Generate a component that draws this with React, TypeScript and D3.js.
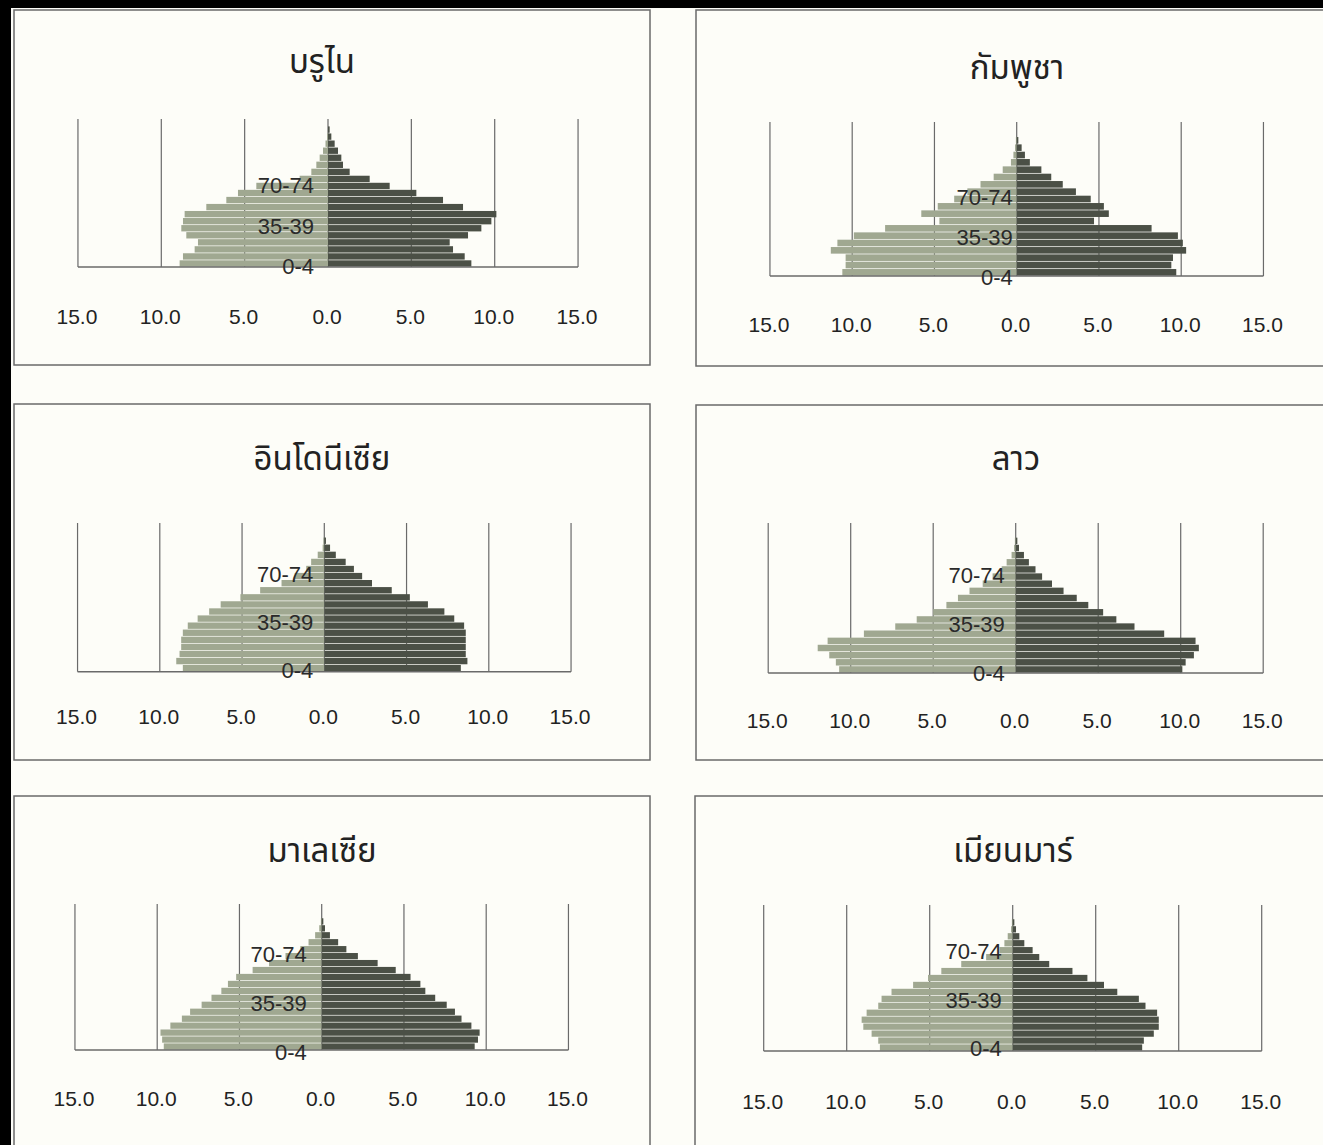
import React, { useEffect } from 'react';
import * as d3 from 'd3';

// ---------- data ----------
const ageGroups = [
  '0-4', '5-9', '10-14', '15-19', '20-24', '25-29', '30-34', '35-39', '40-44', '45-49',
  '50-54', '55-59', '60-64', '65-69', '70-74', '75-79', '80-84', '85-89', '90-94', '95-99', '100+',
];
const labeledAges = ['0-4', '35-39', '70-74'];
const tickValues = [-15, -10, -5, 0, 5, 10, 15];

const countryNames = ['บรูไน', 'กัมพูชา', 'อินโดนีเซีย', 'ลาว', 'มาเลเซีย', 'เมียนมาร์'];

const bruneiMale = [8.9, 8.7, 8.0, 7.8, 8.5, 8.8, 8.7, 8.6, 7.3, 6.1, 5.4, 4.3, 1.7, 1.0, 0.7, 0.5, 0.3, 0.15, 0.05, 0, 0];
const bruneiFemale = [8.6, 8.2, 7.5, 7.3, 8.4, 9.2, 9.8, 10.1, 8.1, 6.9, 5.3, 3.7, 2.5, 1.3, 0.9, 0.8, 0.6, 0.4, 0.2, 0.1, 0];

const cambodiaMale = [10.6, 10.4, 10.4, 11.3, 10.9, 9.9, 8.0, 4.7, 5.8, 4.8, 3.8, 3.0, 2.2, 1.4, 0.85, 0.35, 0.2, 0.1, 0.05, 0, 0];
const cambodiaFemale = [9.7, 9.4, 9.5, 10.3, 10.1, 9.8, 8.2, 4.7, 5.6, 5.3, 4.5, 3.6, 2.8, 2.1, 1.5, 0.8, 0.5, 0.3, 0.1, 0, 0];

const indonesiaMale = [8.6, 9.0, 8.8, 8.7, 8.7, 8.6, 8.3, 7.7, 7.0, 6.3, 5.1, 3.9, 2.6, 1.8, 1.1, 0.8, 0.4, 0.1, 0.05, 0, 0];
const indonesiaFemale = [8.3, 8.7, 8.6, 8.6, 8.6, 8.6, 8.5, 7.9, 7.3, 6.3, 5.2, 4.1, 2.9, 2.3, 1.8, 1.3, 0.7, 0.35, 0.1, 0, 0];

const laosMale = [10.7, 10.9, 11.3, 12.0, 11.4, 9.2, 7.3, 6.0, 5.0, 4.2, 3.5, 2.8, 2.0, 1.4, 0.85, 0.55, 0.25, 0.1, 0.05, 0, 0];
const laosFemale = [10.1, 10.3, 10.8, 11.1, 10.9, 9.0, 7.2, 6.1, 5.3, 4.4, 3.7, 2.9, 2.2, 1.6, 1.2, 0.8, 0.5, 0.2, 0.1, 0, 0];

const malaysiaMale = [9.6, 9.7, 9.8, 9.2, 8.5, 8.0, 7.3, 6.7, 6.1, 5.7, 5.2, 4.2, 3.2, 2.2, 1.3, 0.8, 0.4, 0.15, 0.05, 0, 0];
const malaysiaFemale = [9.3, 9.5, 9.6, 9.1, 8.5, 8.1, 7.6, 6.9, 6.3, 6.0, 5.4, 4.5, 3.4, 2.2, 1.5, 1.0, 0.5, 0.2, 0.1, 0, 0];

const myanmarMale = [8.0, 8.1, 8.5, 9.0, 9.1, 8.8, 8.1, 7.9, 7.3, 6.0, 5.1, 4.3, 3.1, 1.6, 0.8, 0.5, 0.3, 0.1, 0.05, 0, 0];
const myanmarFemale = [7.8, 7.9, 8.5, 8.8, 8.8, 8.7, 8.0, 7.6, 6.3, 5.5, 4.5, 3.6, 2.2, 1.6, 1.2, 0.7, 0.4, 0.2, 0.1, 0, 0];

const maleSeries = [bruneiMale, cambodiaMale, indonesiaMale, laosMale, malaysiaMale, myanmarMale];
const femaleSeries = [bruneiFemale, cambodiaFemale, indonesiaFemale, laosFemale, malaysiaFemale, myanmarFemale];

// ---------- layout (positions only) ----------
type Layout = {
  box: [number, number, number, number];
  cx: number; unit: number; top: number; axis: number;
  titleX: number; titleY: number; tickY: number;
  labelStep: number; labelOff: number; labelDx: number;
};
const layouts: Layout[] = [
  { box: [14, 10, 636, 355], cx: 328, unit: 16.67, top: 119, axis: 267, titleX: 322, titleY: 64, tickY: 318, labelStep: 5.75, labelOff: 1, labelDx: -14 },
  { box: [696, 10, 640, 356], cx: 1016.7, unit: 16.45, top: 122, axis: 276, titleX: 1017, titleY: 70, tickY: 326, labelStep: 5.7, labelOff: 3, labelDx: -4 },
  { box: [14, 404, 636, 356], cx: 324.3, unit: 16.45, top: 523, axis: 671.7, titleX: 322, titleY: 461, tickY: 718, labelStep: 6.8, labelOff: 0, labelDx: -11 },
  { box: [696, 405, 640, 355], cx: 1015.7, unit: 16.5, top: 523, axis: 673, titleX: 1016, titleY: 461, tickY: 722, labelStep: 7.0, labelOff: 2, labelDx: -11 },
  { box: [14, 796, 636, 360], cx: 321.7, unit: 16.45, top: 904, axis: 1050, titleX: 322, titleY: 853, tickY: 1100, labelStep: 7.0, labelOff: 4, labelDx: -15 },
  { box: [695, 796, 640, 360], cx: 1012.7, unit: 16.6, top: 905, axis: 1051, titleX: 1013, titleY: 853, tickY: 1103, labelStep: 6.9, labelOff: -1, labelDx: -11 },
];

const W = 1323;
const H = 1145;
const maleColor = '#a0a891';
const femaleColor = '#4b5046';
const lineColor = '#6a6a6a';
const textColor = '#222222';
const bg = '#fdfdf8';
const thaiFont = "'Noto Sans Thai', 'Noto Sans Thai UI', Loma, Garuda, 'Tlwg Typo', 'Noto Sans', sans-serif";
const numFont = "'Liberation Sans', Arial, sans-serif";

function Panel({ idx }: { idx: number }) {
  const L = layouts[idx];
  const male = maleSeries[idx];
  const female = femaleSeries[idx];
  const x = d3.scaleLinear().domain([-15, 15]).range([L.cx - 15 * L.unit, L.cx + 15 * L.unit]);
  const y = d3.scaleBand<string>().domain(ageGroups).range([L.axis, L.top]).paddingInner(0.1).paddingOuter(0.05);
  const labelY = d3.scaleLinear()
    .domain([0, ageGroups.length - 1])
    .range([L.axis + L.labelOff, L.axis + L.labelOff - (ageGroups.length - 1) * L.labelStep]);
  const fmt = d3.format('.1f');
  const [bx, by, bw, bh] = L.box;
  return (
    <g>
      <rect x={bx} y={by} width={bw} height={bh} fill="none" stroke={lineColor} strokeWidth={1.5} />
      <text x={L.titleX} y={L.titleY} textAnchor="middle" dominantBaseline="middle"
        fontFamily={thaiFont} fontSize={33} fill={textColor}>{countryNames[idx]}</text>
      {tickValues.map((t) => (
        <line key={'g' + t} x1={x(t)} x2={x(t)} y1={L.top} y2={L.axis} stroke={lineColor} strokeWidth={1.2} />
      ))}
      {ageGroups.map((a, i) => (
        <rect key={'m' + a} x={x(-male[i])} y={y(a)} width={x(0) - x(-male[i])} height={y.bandwidth()} fill={maleColor} />
      ))}
      {ageGroups.map((a, i) => (
        <rect key={'f' + a} x={x(0)} y={y(a)} width={x(female[i]) - x(0)} height={y.bandwidth()} fill={femaleColor} />
      ))}
      <line x1={x(-15)} x2={x(15)} y1={L.axis} y2={L.axis} stroke={lineColor} strokeWidth={1.4} />
      {labeledAges.map((a) => (
        <text key={'l' + a} x={x(0) + L.labelDx} y={labelY(ageGroups.indexOf(a))} textAnchor="end" dominantBaseline="middle"
          fontFamily={numFont} fontSize={22} fill="#2a2a2a">{a}</text>
      ))}
      {tickValues.map((t) => (
        <text key={'t' + t} x={x(t) - 1} y={L.tickY} textAnchor="middle" dominantBaseline="middle"
          fontFamily={numFont} fontSize={21} fill={textColor}>{fmt(Math.abs(t))}</text>
      ))}
    </g>
  );
}

export default function App() {
  useEffect(() => {
    document.body.style.margin = '0';
  }, []);
  return (
    <svg width={W} height={H} style={{ position: 'absolute', left: 0, top: 0, display: 'block' }}>
      <rect x={0} y={0} width={W} height={H} fill={bg} />
      {layouts.map((_, i) => <Panel key={i} idx={i} />)}
      <rect x={0} y={0} width={W} height={8} fill="#000" />
      <rect x={0} y={0} width={11} height={H} fill="#000" />
    </svg>
  );
}
